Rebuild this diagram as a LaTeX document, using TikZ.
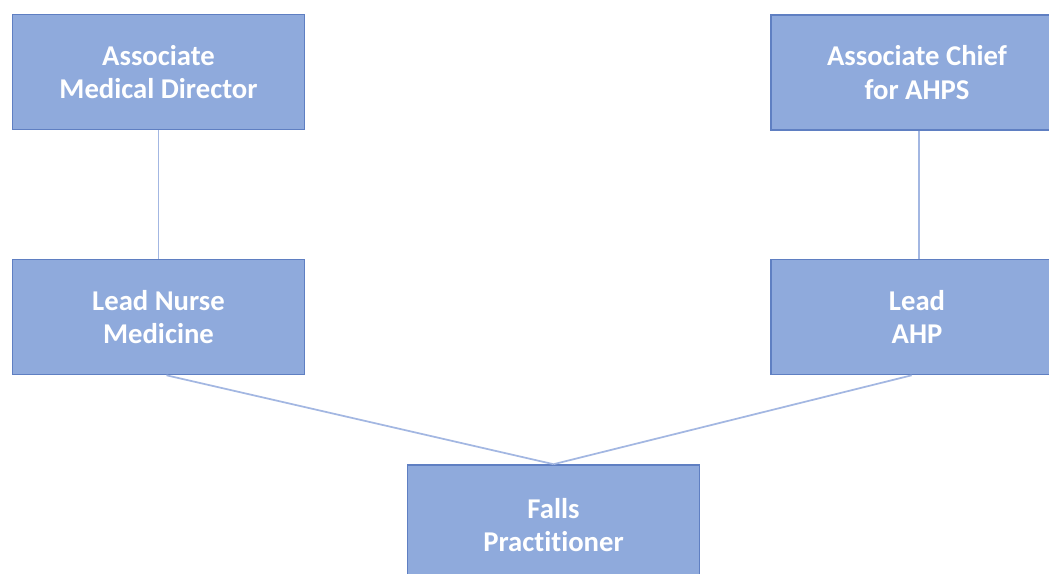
\documentclass[tikz,border=0pt]{standalone}
\usepackage{fontspec}
\setmainfont{Carlito}[Ligatures=NoCommon]
\definecolor{boxfill}{HTML}{8FAADC}
\definecolor{boxline}{HTML}{5F7FC2}
\definecolor{linkcol}{HTML}{A3B7E2}
\begin{document}
\begin{tikzpicture}[x=0.75pt,y=-0.75pt,
  orgbox/.style={draw=boxline, line width=1.2pt, fill=boxfill, text=white,
    minimum width=292*0.75pt, minimum height=115*0.75pt, inner sep=0pt,
    align=center, font=\fontsize{21.5}{25}\selectfont\bfseries},
  link/.style={draw=linkcol, line width=1.3pt}]
\useasboundingbox (0,0) rectangle (1049,574);
\clip (0,0) rectangle (1049,574);
\fill[white] (0,0) rectangle (1049,574);
\node[orgbox] (amd) at (158.5,72) {Associate\\Medical Director};
\node[orgbox] (acf) at (917,72.5) {Associate Chief\\for AHPS};
\node[orgbox] (lnm) at (158.5,317) {Lead Nurse\\Medicine};
\node[orgbox] (lahp) at (917,317) {Lead\\AHP};
\node[orgbox, minimum height=120*0.75pt] (fp) at (553.5,525) {Falls\\Practitioner};
\draw[link] (amd.south) -- (lnm.north);
\draw[link] ([xshift=1.5pt]acf.south) -- ([xshift=1.5pt]lahp.north);
\draw[link] ([xshift=6pt]lnm.south) -- (fp.north);
\draw[link] ([xshift=-4pt]lahp.south) -- (fp.north);
\end{tikzpicture}
\end{document}
